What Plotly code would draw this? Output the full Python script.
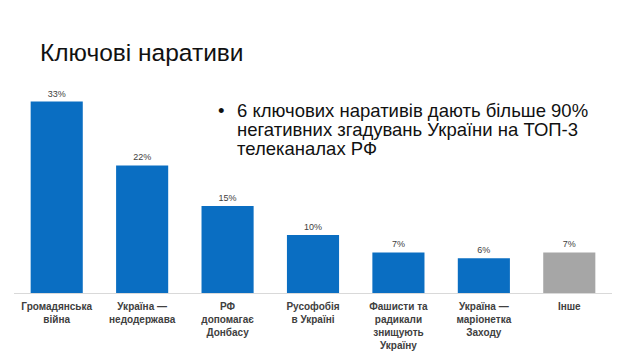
import plotly.graph_objects as go

categories = [
    "Громадянська<br>війна",
    "Україна —<br>недодержава",
    "РФ<br>допомагає<br>Донбасу",
    "Русофобія<br>в Україні",
    "Фашисти та<br>радикали<br>знищують<br>Україну",
    "Україна —<br>маріонетка<br>Заходу",
    "Інше",
]
values = [33, 22, 15, 10, 7, 6, 7]
value_labels = ["33%", "22%", "15%", "10%", "7%", "6%", "7%"]
bar_colors = ["#0A6EC2"] * 6 + ["#A6A6A6"]

title_text = "Ключові наративи"
bullet_lines = [
    "6 ключових наративів дають більше 90%",
    "негативних згадувань України на ТОП-3",
    "телеканалах РФ",
]

# page body has an 8px default margin; compensate
OFF = 8
W, H = 640 - OFF, 360 - OFF
L, R, T = 14 - OFF, 640 - 612, 90 - OFF
B = H - (293 - OFF)
PW, PH = W - L - R, H - T - B


def px_x(x):
    return (x - OFF - L) / PW


def px_y(y):
    return (H - B - (y - OFF)) / PH


fig = go.Figure()
fig.add_trace(go.Bar(
    x=categories, y=values,
    marker=dict(color=bar_colors, line=dict(width=0)),
    text=value_labels, textposition="outside",
    textfont=dict(family="Liberation Sans, Arial, sans-serif", size=9, color="#404040"),
    cliponaxis=False,
    hoverinfo="skip",
))

fig.update_layout(
    width=W, height=H,
    margin=dict(l=L, r=R, t=T, b=B),
    paper_bgcolor="white", plot_bgcolor="white",
    bargap=0.39,
    showlegend=False,
    xaxis=dict(
        showline=True, linecolor="#D9D9D9", linewidth=1,
        showgrid=False, ticks="", fixedrange=True, automargin=False,
        ticklabelstandoff=4,
        tickfont=dict(family="Liberation Sans, Arial, sans-serif", size=10, color="#404040", weight="bold"),
    ),
    yaxis=dict(range=[0, 35], visible=False, fixedrange=True, automargin=False),
)

fig.add_annotation(
    text=title_text, xref="paper", yref="paper",
    x=px_x(38), y=px_y(53), xanchor="left", yanchor="middle",
    showarrow=False,
    font=dict(family="Liberation Sans, Arial, sans-serif", size=24.5, color="#111111"),
)

line_y = [110, 129, 148]
for i, line in enumerate(bullet_lines):
    fig.add_annotation(
        text=line, xref="paper", yref="paper",
        x=px_x(235), y=px_y(line_y[i]),
        xanchor="left", yanchor="middle", showarrow=False,
        font=dict(family="Liberation Sans, Arial, sans-serif", size=18.5, color="#111111"),
    )
fig.add_annotation(
    text="•", xref="paper", yref="paper",
    x=px_x(216), y=px_y(110),
    xanchor="left", yanchor="middle", showarrow=False,
    font=dict(family="Liberation Sans, Arial, sans-serif", size=18.5, color="#111111"),
)

fig.write_html("out.html")
